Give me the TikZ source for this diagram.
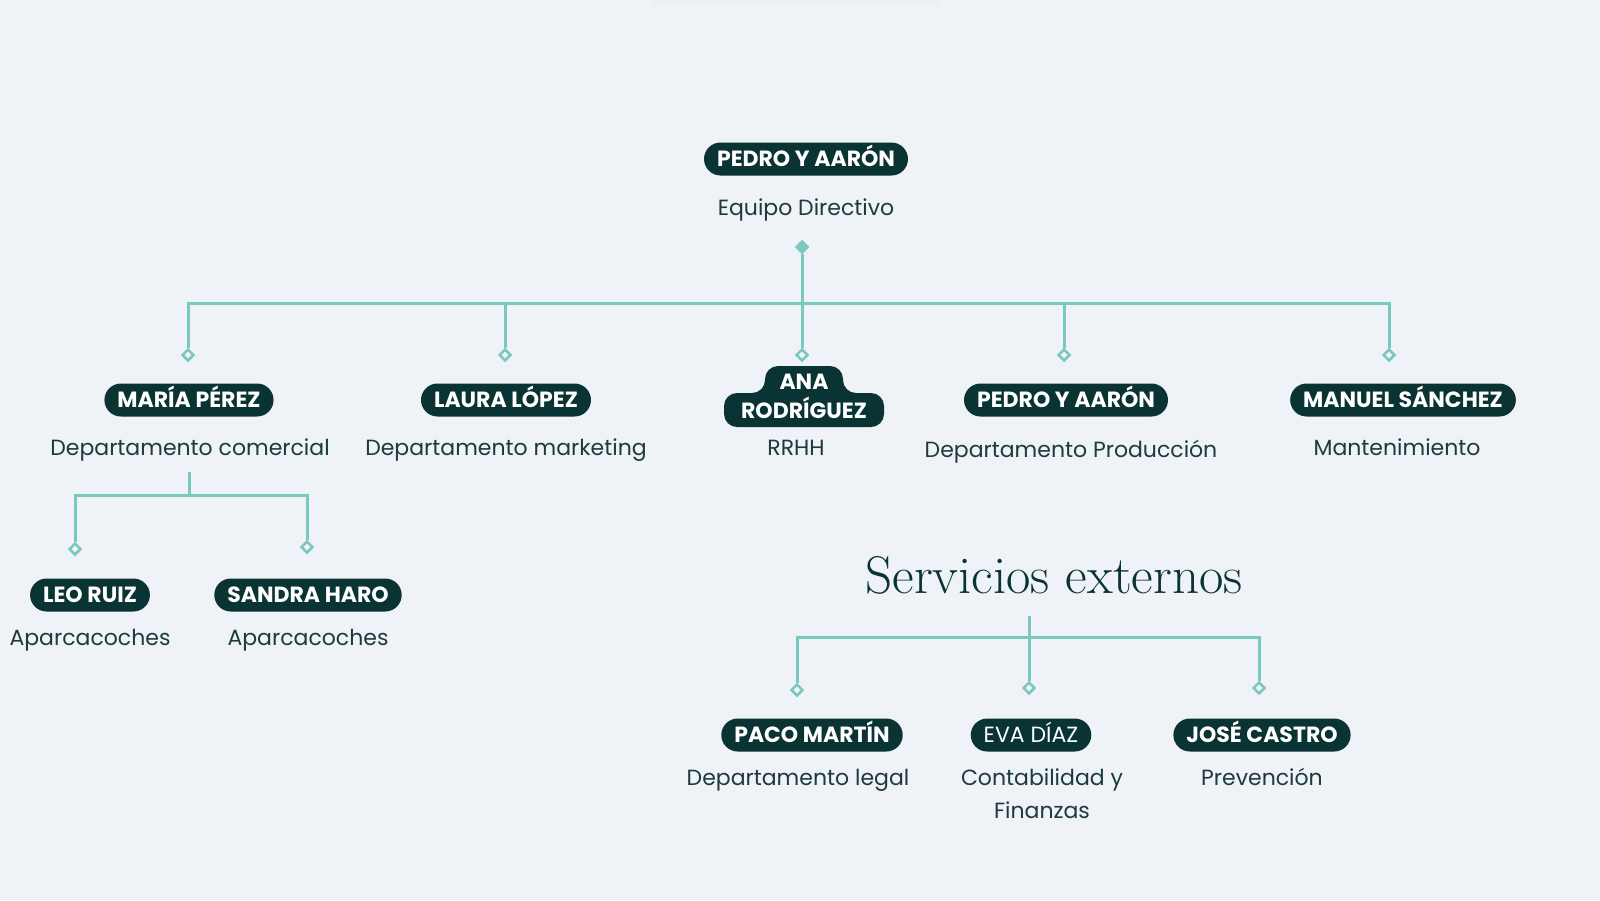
\documentclass[tikz,border=0pt]{standalone}
\usepackage{fontspec}
\newfontfamily\poppins{Poppins}
\usetikzlibrary{shapes.geometric}

\definecolor{bgc}{HTML}{EFF2F7}
\definecolor{pillc}{HTML}{0A3333}
\definecolor{linec}{HTML}{79C9BE}
\definecolor{labelc}{HTML}{1E3B3B}

\tikzset{
  pill/.style={fill=pillc, text=white, rounded corners=16.5pt, minimum height=33pt,
    text height=15pt, text depth=0pt,
    inner xsep=13pt, inner ysep=0pt, font=\poppins\bfseries\fontsize{22}{29}\selectfont},
  role/.style={text=labelc, anchor=base, align=center, font=\poppins\fontsize{22}{33}\selectfont},
  joint/.style={diamond, draw=linec, fill=bgc, line width=2.5pt, inner sep=0pt, minimum size=12pt},
  link/.style={draw=linec, line width=3pt},
}

\begin{document}
\begin{tikzpicture}[x=1pt,y=-1pt]
  \fill[bgc] (0,0) rectangle (1600,900);
  \useasboundingbox (0,0) rectangle (1600,900);
  \shade[top color=black!7, bottom color=bgc] (653,0) rectangle (939,6);

  % Equipo directivo
  \node[pill] (direccion) at (806,159) {PEDRO Y AARÓN};
  \node[role] (equipo) at (806,215) {Equipo Directivo};
  \node[joint, fill=linec] (raiz) at (802,247) {};

  % Departamentos
  \coordinate (bus) at (802,303);
  \node[joint] (jMaria)  at (188,355) {};
  \node[joint] (jLaura)  at (505,355) {};
  \node[joint] (jAna)    at (802,355) {};
  \node[joint] (jPedro)  at (1064,355) {};
  \node[joint] (jManuel) at (1389,355) {};

  \draw[link] (raiz) -- (jAna);
  \foreach \j in {jMaria,jLaura,jPedro,jManuel}
    \draw[link] (bus) -| (\j);

  \node[pill] (maria)  at (189,400)  {MARÍA PÉREZ};
  \node[pill] (laura)  at (506,400)  {LAURA LÓPEZ};
  \fill[pillc, rounded corners=13pt] (724,427) -- (724,393) -- (765,393) -- (765,366)
    -- (843,366) -- (843,393) -- (884,393) -- (884,427) -- cycle;
  \node[text=white, align=center, inner sep=0pt, font=\poppins\bfseries\fontsize{22}{29}\selectfont]
    (ana) at (804,396) {ANA\\RODRÍGUEZ};
  \node[pill] (pedro)  at (1066,400) {PEDRO Y AARÓN};
  \node[pill] (manuel) at (1403,400) {MANUEL SÁNCHEZ};

  \node[role] (comercial)  at (190,455)  {Departamento comercial};
  \node[role] (marketing)  at (506,455)  {Departamento marketing};
  \node[role] (rrhh)       at (796,455)  {RRHH};
  \node[role] (produccion) at (1071,457) {Departamento Producción};
  \node[role] (manten)     at (1397,455) {Mantenimiento};

  % Aparcacoches
  \coordinate (subtop) at (189,472);
  \coordinate (subbus) at (189,495);
  \node[joint] (jLeo)    at (75,549)  {};
  \node[joint] (jSandra) at (307,547) {};
  \draw[link] (subtop) -- (subbus);
  \draw[link] (subbus) -| (jLeo);
  \draw[link] (subbus) -| (jSandra);

  \node[pill] (leo)    at (90,595)  {LEO RUIZ};
  \node[pill] (sandra) at (308,595) {SANDRA HARO};
  \node[role] (aparcaA) at (90,645)  {Aparcacoches};
  \node[role] (aparcaB) at (308,645) {Aparcacoches};

  % Servicios externos
  \node[text=pillc, anchor=base, font=\fontsize{53}{60}\selectfont] (externos) at (1054,593) {Servicios externos};
  \coordinate (exttop) at (1029,616);
  \coordinate (extbus) at (1029,637);
  \node[joint] (jPaco) at (797,690)  {};
  \node[joint] (jEva)  at (1029,688) {};
  \node[joint] (jJose) at (1259,688) {};
  \draw[link] (exttop) -- (jEva);
  \draw[link] (extbus) -| (jPaco);
  \draw[link] (extbus) -| (jJose);

  \node[pill] (paco) at (812,735)  {PACO MARTÍN};
  \node[pill, font=\poppins\fontsize{22}{29}\selectfont] (eva) at (1031,735) {EVA DÍAZ};
  \node[pill] (jose) at (1262,735) {JOSÉ CASTRO};

  \node[role] (legal)  at (798,785)  {Departamento legal};
  \node[role] (conta)  at (1042,818) {Contabilidad y\\Finanzas};
  \node[role] (preven) at (1262,785) {Prevención};
\end{tikzpicture}
\end{document}
